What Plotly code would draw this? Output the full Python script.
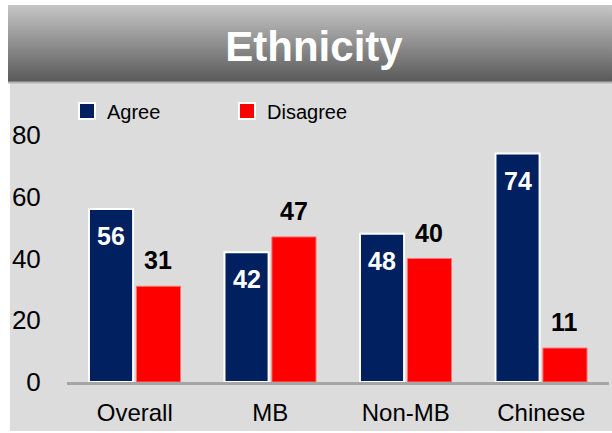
import base64
import plotly.graph_objects as go

categories = ["Overall", "MB", "Non-MB", "Chinese"]
agree = [56, 42, 48, 74]
disagree = [31, 47, 40, 11]
y_ticks = [0, 20, 40, 60, 80]
title_text = "Ethnicity"

W, H = 612, 433
ML, MR, MT, MB = 67, 3, 135, 51
PW = W - ML - MR
PH = H - MT - MB


def px_x(p):
    return (p - ML) / PW


def px_y(p):
    return (H - MB - p) / PH


def grad_uri(top, bottom):
    svg = (
        '<svg xmlns="http://www.w3.org/2000/svg" width="100" height="100" '
        'viewBox="0 0 100 100" preserveAspectRatio="none">'
        '<defs><linearGradient id="g" x1="0" y1="0" x2="0" y2="1">'
        f'<stop offset="0" stop-color="{top}"/><stop offset="1" stop-color="{bottom}"/>'
        '</linearGradient></defs><rect width="100" height="100" fill="url(#g)"/></svg>'
    )
    return "data:image/svg+xml;base64," + base64.b64encode(svg.encode()).decode()


FONT = "Arial, Liberation Sans, sans-serif"
NAVY = "#002060"
RED = "#ff0000"

fig = go.Figure()
fig.add_trace(go.Bar(x=categories, y=agree, name="Agree", marker=dict(color=NAVY, line=dict(color="white", width=2)), showlegend=False))
fig.add_trace(go.Bar(x=categories, y=disagree, name="Disagree", marker=dict(color=RED, line=dict(color="#ff7070", width=1)), showlegend=False))
# legend entries
fig.add_trace(go.Scatter(x=[None], y=[None], mode="markers", name="Agree",
                         marker=dict(symbol="square", size=22, color=NAVY, line=dict(color="white", width=2))))
fig.add_trace(go.Scatter(x=[None], y=[None], mode="markers", name="Disagree",
                         marker=dict(symbol="square", size=22, color=RED, line=dict(color="white", width=2))))

annotations = []
for c, v in zip(categories, agree):
    annotations.append(dict(x=c, y=v, xref="x", yref="y", text=f"<b>{v}</b>", showarrow=False,
                            xshift=-23.5, yshift=-11, yanchor="top",
                            font=dict(family=FONT, size=25, color="white")))
for c, v in zip(categories, disagree):
    annotations.append(dict(x=c, y=v, xref="x", yref="y", text=f"<b>{v}</b>", showarrow=False,
                            xshift=23.5, yshift=10, yanchor="bottom",
                            font=dict(family=FONT, size=25, color="black")))

shapes = [
    dict(type="rect", xref="paper", yref="paper", layer="below",
         x0=px_x(10), x1=px_x(614), y0=px_y(431), y1=px_y(83),
         fillcolor="#dcdcdc", line=dict(width=0)),
    dict(type="line", xref="paper", yref="paper", layer="below",
         x0=px_x(8), x1=px_x(614), y0=px_y(82.5), y1=px_y(82.5),
         line=dict(color="#b4b4b4", width=2)),
]

images = [
    dict(source=grad_uri("#c6c6c6", "#595959"), xref="paper", yref="paper",
         x=px_x(8), y=px_y(5), sizex=(614 - 8) / PW, sizey=(82 - 5) / PH,
         xanchor="left", yanchor="top", sizing="stretch", layer="below"),
    dict(source=grad_uri("#e0e0e0", "#ffffff"), xref="paper", yref="paper",
         x=px_x(66), y=px_y(148), sizex=(609 - 66) / PW, sizey=(382 - 148) / PH,
         xanchor="left", yanchor="top", sizing="stretch", layer="below"),
]

fig.update_layout(
    width=W, height=H,
    margin=dict(l=ML, r=MR, t=MT, b=MB, pad=0),
    paper_bgcolor="white", plot_bgcolor="rgba(0,0,0,0)",
    barmode="group", bargap=0.3, bargroupgap=0.07,
    font=dict(family=FONT, color="black"),
    title=dict(text=f"<b>{title_text}</b>", xref="container", yref="container",
               x=314 / W, y=1 - 46 / H, xanchor="center", yanchor="middle",
               font=dict(family=FONT, size=42, color="white")),
    showlegend=True,
    legend=dict(orientation="h", x=0, xanchor="left", y=px_y(111), yanchor="middle",
                bgcolor="rgba(0,0,0,0)", font=dict(size=20, family=FONT),
                entrywidth=115, entrywidthmode="pixels", itemsizing="trace"),
    annotations=annotations, shapes=shapes, images=images,
)
fig.update_xaxes(showline=True, linecolor="#a6a6a6", linewidth=3, showgrid=False, zeroline=False,
                 ticks="outside", ticklen=7, tickcolor="rgba(0,0,0,0)",
                 tickfont=dict(size=24, family=FONT, color="black"), fixedrange=True)
fig.update_yaxes(range=[0, 80], tickvals=y_ticks, showline=False, showgrid=False, zeroline=False,
                 ticks="outside", ticklen=20, tickcolor="rgba(0,0,0,0)",
                 tickfont=dict(size=26, family=FONT, color="black"), fixedrange=True)

fig.write_html(
    "out.html",
    config={"displayModeBar": False},
    post_script="document.body.style.margin='0';document.body.style.overflow='hidden';",
)
